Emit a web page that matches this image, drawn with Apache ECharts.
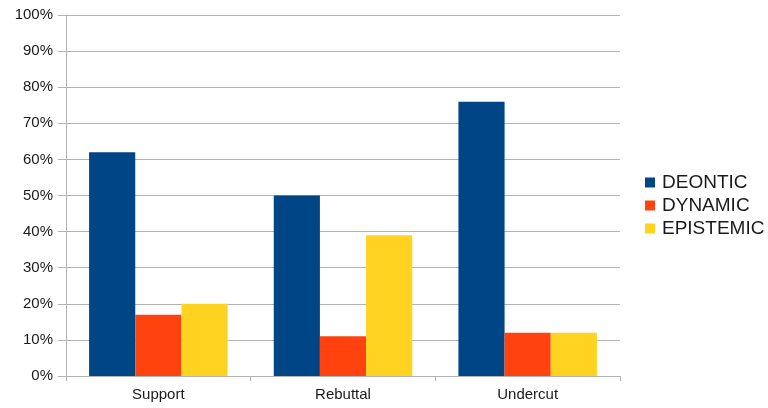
<!doctype html>
<html>
<head>
<meta charset="UTF-8">
<title></title>
<script src="https://cdn.jsdelivr.net/npm/echarts@6/dist/echarts.min.js"></script>
<style>
html, body { margin: 0; padding: 0; background: #fff; }
#chart { width: 768px; height: 408px; }
</style>
</head>
<body>
<div id="chart"></div>
<script>
var categories = ['Support', 'Rebuttal', 'Undercut'];
var deontic = [62, 50, 76];
var dynamic = [17, 11, 12];
var epistemic = [20, 39, 12];

var myChart = echarts.init(document.getElementById('chart'));

var option = {
	backgroundColor: '#fff',
	animation: false,
	color: ['#004586', '#ff420e', '#ffd320'],
	textStyle: { fontFamily: 'Liberation Sans, Arial, sans-serif' },
	grid: {
		left: 66,
		right: 148,
		top: 15,
		bottom: 32
	},
	legend: {
		orient: 'vertical',
		left: 640,
		top: 168,
		itemWidth: 10,
		itemHeight: 10,
		itemGap: 4,
		icon: 'rect',
		textStyle: { fontSize: 19, color: '#1a1a1a', padding: [0, 0, 0, 2] },
		data: ['DEONTIC', 'DYNAMIC', 'EPISTEMIC']
	},
	xAxis: {
		type: 'category',
		data: categories,
		axisLine: { lineStyle: { color: '#b3b3b3', width: 1 } },
		axisTick: { show: true, length: 5, lineStyle: { color: '#b3b3b3' } },
		axisLabel: { fontSize: 15, color: '#1a1a1a', margin: 11 }
	},
	yAxis: {
		type: 'value',
		min: 0,
		max: 100,
		interval: 10,
		axisLine: { show: true, lineStyle: { color: '#b3b3b3' } },
		axisTick: { show: true, length: 8, lineStyle: { color: '#b3b3b3' } },
		splitLine: { lineStyle: { color: '#b3b3b3', width: 1 } },
		axisLabel: { fontSize: 15, color: '#1a1a1a', margin: 13, formatter: '{value}%' }
	},
	series: [{
		name: 'DEONTIC',
		type: 'bar',
		data: deontic,
		barGap: '0%',
		barCategoryGap: '25%'
	}, {
		name: 'DYNAMIC',
		type: 'bar',
		data: dynamic
	}, {
		name: 'EPISTEMIC',
		type: 'bar',
		data: epistemic
	}]
};
myChart.setOption(option);
</script>
</body>
</html>
